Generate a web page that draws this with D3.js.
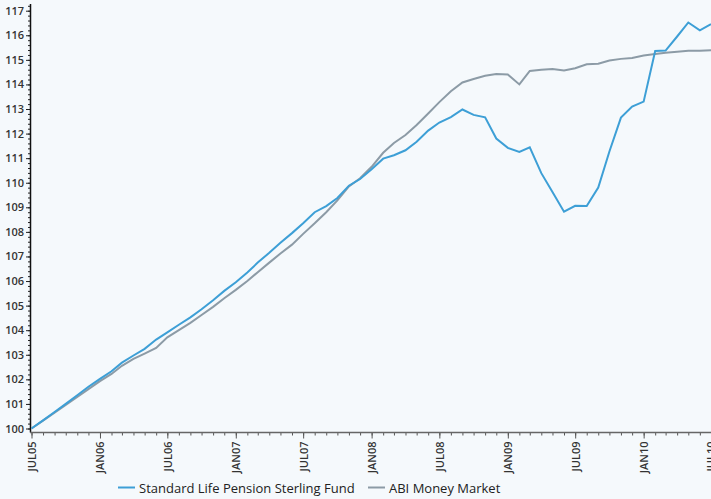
<!DOCTYPE html>
<html>
<head>
<meta charset="utf-8">
<script src="https://cdn.jsdelivr.net/npm/d3@7"></script>
<style>
  body { margin: 0; background: #f5f9fc; }
  svg { display: block; }
  text { font-family: "Open Sans", "Noto Sans", sans-serif; }
</style>
</head>
<body>
<div id="chart"></div>
<script>
// monthly index values, Jul 2005 - Jul 2010
var months = d3.timeMonths(new Date(2005, 6, 1), new Date(2010, 7, 1))

var standardLife = [
	100.00, 100.33, 100.67, 101.00, 101.35, 101.70, 102.02, 102.33, 102.68, 102.97,
	103.24, 103.62, 103.91, 104.22, 104.52, 104.85, 105.22, 105.60, 105.95, 106.35,
	106.75, 107.15, 107.56, 107.95, 108.35, 108.80, 109.05, 109.38, 109.88, 110.15,
	110.55, 110.98, 111.12, 111.32, 111.67, 112.12, 112.45, 112.67, 112.98, 112.76,
	112.66, 111.80, 111.42, 111.25, 111.44, 110.39, 109.62, 108.82, 109.06, 109.05,
	109.80, 111.27, 112.65, 113.10, 113.30, 115.36, 115.38, 115.95, 116.52, 116.20,
	116.45
]

var abiMoney = [
	100.00, 100.32, 100.64, 100.96, 101.28, 101.60, 101.93, 102.22, 102.55, 102.83,
	103.05, 103.28, 103.71, 104.00, 104.30, 104.62, 104.95, 105.30, 105.64, 106.00,
	106.36, 106.75, 107.12, 107.48, 107.92, 108.35, 108.80, 109.28, 109.85, 110.18,
	110.65, 111.22, 111.62, 111.94, 112.35, 112.82, 113.28, 113.72, 114.08, 114.22,
	114.35, 114.42, 114.40, 114.00, 114.55, 114.60, 114.63, 114.57, 114.66, 114.82,
	114.84, 114.97, 115.04, 115.08, 115.18, 115.24, 115.29, 115.33, 115.37, 115.37,
	115.39
]

var yTicks = [100,101,102,103,104,105,106,107,108,109,110,111,112,113,114,115,116,117]
var seriesNames = ["Standard Life Pension Sterling Fund", "ABI Money Market"]
var colors = ["#3d9fd6", "#8c9ba6"]

var width = 711
var height = 499

var svg = d3.select("#chart").append("svg").attr("width", width).attr("height", height)
svg.append("rect").attr("width", width).attr("height", height).attr("fill", "#f5f9fc")

var x = d3.scaleTime()
	.domain([months[0], months[months.length-1]])
	.range([31.5, 711])
var y = d3.scaleLinear().domain([100, 117]).range([428.5, 10.7])
var axisY = 432.5

// y axis
var yMinor = d3.range(100, 117.01, 0.2).concat(d3.range(99.95, 100, 1))
svg.append("g").attr("transform", "translate(30,0)")
	.call(d3.axisLeft(y).tickValues(d3.range(100, 117.2, 0.2)).tickSize(2).tickFormat(""))
	.call(g => g.select(".domain").remove())
	.selectAll("line").attr("stroke", "#222")
var yAxis = svg.append("g").attr("transform", "translate(30,0)")
	.call(d3.axisLeft(y).tickValues(yTicks).tickSize(4).tickPadding(2).tickFormat(d3.format("d")))
yAxis.select(".domain").remove()
yAxis.selectAll("line").attr("stroke", "#222")
yAxis.selectAll("text").attr("fill", "#333").style("font-size", "11px").style("font-weight", 600)
svg.append("line").attr("x1", 30.5).attr("x2", 30.5).attr("y1", 4).attr("y2", axisY)
	.attr("stroke", "#111").attr("stroke-width", 1.5)

// x axis
var xMinor = svg.append("g").attr("transform", "translate(0," + axisY + ")")
	.call(d3.axisBottom(x).tickValues(months).tickSize(3).tickFormat(""))
xMinor.select(".domain").remove()
xMinor.selectAll("line").attr("stroke", "#555")

var majorMonths = months.filter(function(d){ return d.getMonth() % 6 == 0 })
var fmt = d3.timeFormat("%b%y")
var xAxis = svg.append("g").attr("transform", "translate(0," + axisY + ")")
	.call(d3.axisBottom(x).tickValues(majorMonths).tickSize(6)
		.tickFormat(function(d){ return fmt(d).toUpperCase() }))
xAxis.select(".domain").remove()
xAxis.selectAll("line").attr("stroke", "#555")
xAxis.selectAll("text")
	.attr("fill", "#333")
	.style("font-size", "11px")
	.style("font-weight", 600)
	.attr("text-anchor", "end")
	.attr("transform", "rotate(-90)")
	.attr("x", -9).attr("y", 0).attr("dy", "0.35em")
svg.append("line").attr("x1", 30).attr("x2", 711).attr("y1", axisY).attr("y2", axisY)
	.attr("stroke", "#666").attr("stroke-width", 1.5)

// lines
var line = d3.line()
	.x(function(d, i){ return x(months[i]) })
	.y(function(d){ return y(d) })

var allSeries = [abiMoney, standardLife]
var seriesColors = [colors[1], colors[0]]
allSeries.forEach(function(s, k){
	svg.append("path")
		.attr("d", line(s))
		.attr("fill", "none")
		.attr("stroke", seriesColors[k])
		.attr("stroke-width", 2)
})

// legend
var legendPos = [118, 368]
seriesNames.forEach(function(name, i){
	svg.append("line")
		.attr("x1", legendPos[i]).attr("x2", legendPos[i] + 17)
		.attr("y1", 487.5).attr("y2", 487.5)
		.attr("stroke", colors[i]).attr("stroke-width", 2)
	svg.append("text").text(name)
		.attr("x", legendPos[i] + 21).attr("y", 492.5)
		.attr("fill", "#222")
		.style("font-size", "13px")
})
</script>
</body>
</html>
